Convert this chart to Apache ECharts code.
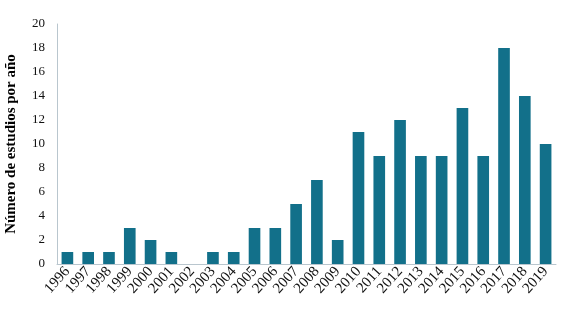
<!DOCTYPE html>
<html><head><meta charset="utf-8">
<script src="https://cdn.jsdelivr.net/npm/echarts@6/dist/echarts.min.js"></script>
<style>html,body{margin:0;padding:0;background:#fff}#c{width:573px;height:320px}</style>
</head><body><div id="c"></div>
<script>
var years = ['1996','1997','1998','1999','2000','2001','2002','2003','2004','2005','2006','2007','2008','2009','2010','2011','2012','2013','2014','2015','2016','2017','2018','2019'];
var counts = [1,1,1,3,2,1,0,1,1,3,3,5,7,2,11,9,12,9,9,13,9,18,14,10];
var yTicks = [0,2,4,6,8,10,12,14,16,18,20];
var chart = echarts.init(document.getElementById('c'));
var serif = '"Liberation Serif", "DejaVu Serif", serif';
chart.setOption({
  animation: false,
  grid: {left: 57, right: 17, top: 24, bottom: 56, containLabel: false, outerBoundsMode: 'none'},
  xAxis: {
    type: 'category', data: years,
    axisLine: {lineStyle: {color: '#b9c6ce', width: 1}},
    axisTick: {show: false},
    axisLabel: {rotate: 48, fontFamily: serif, fontSize: 15, color: '#111', margin: 5, interval: 0}
  },
  yAxis: {
    type: 'value', min: yTicks[0], max: yTicks[yTicks.length-1], interval: 2,
    name: 'Número de estudios por año', nameLocation: 'middle', nameGap: 38,
    nameTextStyle: {fontFamily: serif, fontSize: 15, fontWeight: 'bold', color: '#000'},
    axisLine: {show: true, lineStyle: {color: '#b9c6ce', width: 1}},
    axisTick: {show: false},
    splitLine: {show: false},
    axisLabel: {fontFamily: serif, fontSize: 13, color: '#111', margin: 12}
  },
  series: [{
    type: 'bar', data: counts, barCategoryGap: '44%',
    itemStyle: {color: '#12708a'}
  }]
});
</script></body></html>
